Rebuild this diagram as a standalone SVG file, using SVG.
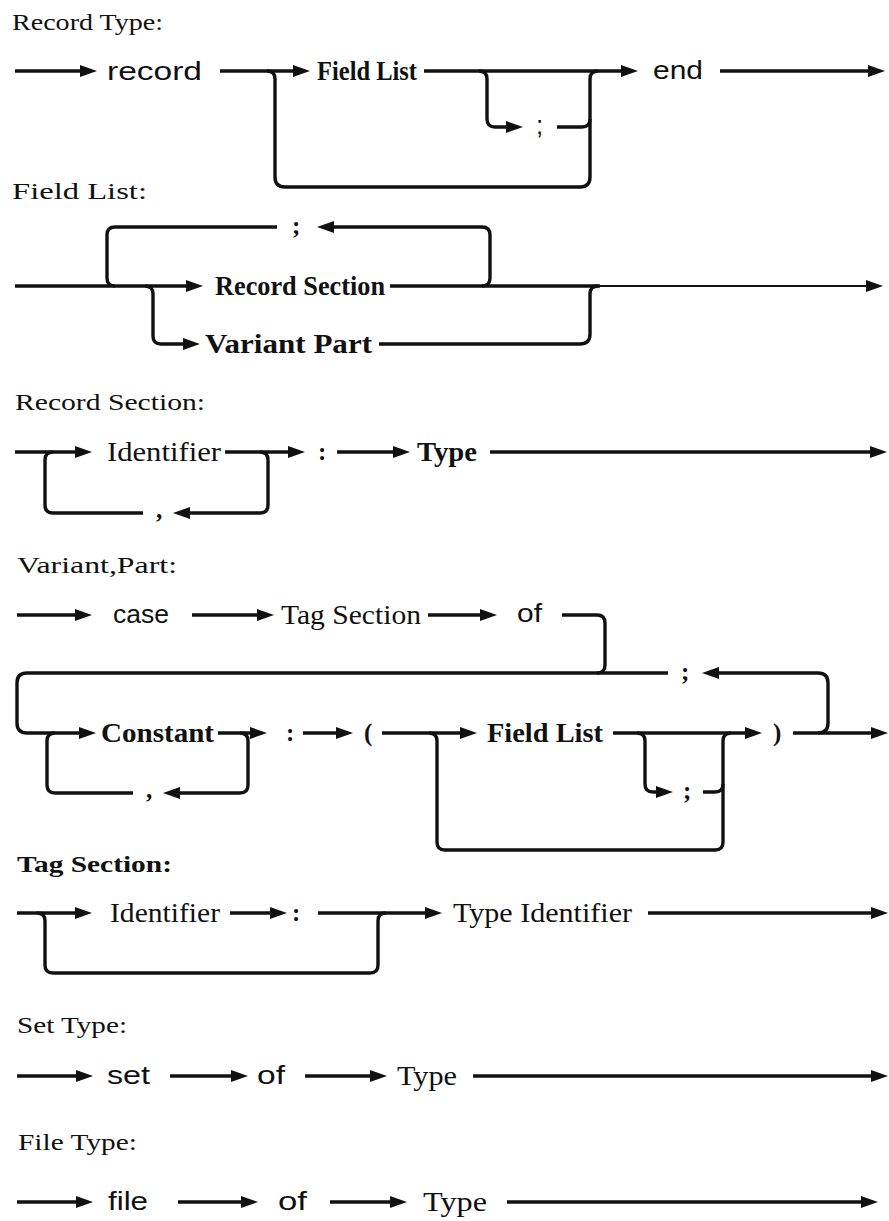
<svg xmlns="http://www.w3.org/2000/svg" width="889" height="1221" viewBox="0 0 889 1221">
<style>
.ttl{font-family:"Liberation Serif",serif;font-size:24px;fill:#111}
.kw{font-family:"Liberation Sans",sans-serif;font-size:26px;fill:#111}
.nb{font-family:"Liberation Serif",serif;font-size:27px;font-weight:bold;fill:#111}
.nn{font-family:"Liberation Serif",serif;font-size:27px;fill:#111}
.pn{font-family:"Liberation Serif",serif;font-size:25px;font-weight:bold;fill:#111}
.c{fill:none;stroke:#111;stroke-width:3.4;stroke-linejoin:round}
.a{marker-end:url(#ah)}
.thin{stroke-width:2}
</style>
<defs>
<marker id="ah" markerUnits="userSpaceOnUse" markerWidth="18" markerHeight="14" refX="9" refY="6.5" orient="auto">
<path d="M0,0.5 L17,6.5 L0,12.5 z" fill="#111"/>
</marker>
</defs>
<rect width="889" height="1221" fill="#fff"/>

<g id="titles">
<text class="ttl" x="12" y="30" textLength="151" lengthAdjust="spacingAndGlyphs">Record Type:</text>
<text class="ttl" x="12" y="199" textLength="135" lengthAdjust="spacingAndGlyphs">Field List:</text>
<text class="ttl" x="15" y="410" textLength="190" lengthAdjust="spacingAndGlyphs">Record Section:</text>
<text class="ttl" x="17" y="573" textLength="160" lengthAdjust="spacingAndGlyphs">Variant,Part:</text>
<text class="ttl" x="17" y="872" textLength="155" lengthAdjust="spacingAndGlyphs" font-weight="bold">Tag Section:</text>
<text class="ttl" x="17" y="1033" textLength="110" lengthAdjust="spacingAndGlyphs">Set Type:</text>
<text class="ttl" x="18" y="1150" textLength="119" lengthAdjust="spacingAndGlyphs">File Type:</text>
</g>

<g id="connectors">
<!-- Record Type -->
<path class="c a" d="M15 71 H89"/>
<path class="c a" d="M220 71 H302"/>
<path class="c" d="M267 71 Q275 71 275 79 V177 Q275 187 285 187 H580 Q590 187 590 177 V79 Q590 71 598 71"/>
<path class="c a" d="M424 71 H630"/>
<path class="c a" d="M479 71 Q487 71 487 79 V119 Q487 127 495 127 H515"/>
<path class="c" d="M557 127 H582 Q590 127 590 119"/>
<path class="c a" d="M720 71 H877"/>
<!-- Field List -->
<path class="c a" d="M15 286 H195"/>
<path class="c" d="M277 227 H115 Q107 227 107 235 V278 Q107 286 115 286"/>
<path class="c a" d="M482 286 Q490 286 490 278 V235 Q490 227 482 227 H325"/>
<path class="c a" d="M145 286 Q153 286 153 294 V336 Q153 344 161 344 H192"/>
<path class="c" d="M390 286 H600"/>
<path class="c thin a" d="M600 286 H875"/>
<path class="c" d="M379 344 H580 Q590 344 590 334 V294 Q590 286 598 286"/>
<!-- Record Section -->
<path class="c a" d="M15 452 H84"/>
<path class="c a" d="M225 452 H297"/>
<path class="c a" d="M260 452 Q268 452 268 460 V505 Q268 513 260 513 H181"/>
<path class="c" d="M143 513 H53 Q45 513 45 505 V460 Q45 452 53 452"/>
<path class="c a" d="M337 452 H402"/>
<path class="c a" d="M490 452 H879"/>
<!-- Variant Part -->
<path class="c a" d="M17 615 H84"/>
<path class="c a" d="M192 615 H266"/>
<path class="c a" d="M428 615 H489"/>
<path class="c" d="M562 615 H597 Q605 615 605 623 V665 Q605 673 597 673"/>
<path class="c a" d="M668 673 H27 Q17 673 17 683 V723 Q17 733 27 733 H88"/>
<path class="c a" d="M218 733 H259"/>
<path class="c a" d="M240 733 Q248 733 248 741 V785 Q248 793 240 793 H171"/>
<path class="c" d="M133 793 H55 Q47 793 47 785 V741 Q47 733 55 733"/>
<path class="c a" d="M303 733 H345"/>
<path class="c a" d="M382 733 H469"/>
<path class="c" d="M429 733 Q437 733 437 741 V842 Q437 850 445 850 H715 Q723 850 723 842 V741 Q723 733 731 733"/>
<path class="c a" d="M613 733 H754"/>
<path class="c a" d="M637 733 Q645 733 645 741 V784 Q645 792 653 792 H665"/>
<path class="c" d="M703 792 H715 Q723 792 723 784"/>
<path class="c a" d="M793 733 H880"/>
<path class="c a" d="M818 733 Q828 733 828 723 V683 Q828 673 818 673 H710"/>
<!-- Tag Section -->
<path class="c a" d="M17 913 H84"/>
<path class="c a" d="M230 913 H279"/>
<path class="c a" d="M318 913 H434"/>
<path class="c a" d="M648 913 H880"/>
<path class="c" d="M37 913 Q45 913 45 921 V965 Q45 973 53 973 H370 Q378 973 378 965 V921 Q378 913 386 913"/>
<!-- Set Type -->
<path class="c a" d="M17 1076 H85"/>
<path class="c a" d="M170 1076 H240"/>
<path class="c a" d="M305 1076 H379"/>
<path class="c a" d="M473 1076 H880"/>
<!-- File Type -->
<path class="c a" d="M17 1202 H85"/>
<path class="c a" d="M178 1202 H250"/>
<path class="c a" d="M330 1202 H399"/>
<path class="c a" d="M507 1202 H870"/>
</g>

<g id="n-record"><text class="kw" x="107" y="80" textLength="95" lengthAdjust="spacingAndGlyphs">record</text></g>
<g id="n-fieldlist1"><text class="nb" x="317" y="80" textLength="100" lengthAdjust="spacingAndGlyphs">Field List</text></g>
<g id="n-semi1"><text class="kw" x="536" y="134" font-size="20">;</text></g>
<g id="n-end"><text class="kw" x="653" y="79" textLength="50" lengthAdjust="spacingAndGlyphs">end</text></g>

<g id="n-semi2"><text class="pn" x="292" y="234">;</text></g>
<g id="n-recordsection"><text class="nb" x="215" y="295" textLength="170" lengthAdjust="spacingAndGlyphs">Record Section</text></g>
<g id="n-variantpart"><text class="nb" x="205" y="353" textLength="167" lengthAdjust="spacingAndGlyphs">Variant Part</text></g>

<g id="n-identifier1"><text class="nn" x="107" y="461" textLength="114" lengthAdjust="spacingAndGlyphs">Identifier</text></g>
<g id="n-comma1"><text class="pn" x="156" y="518">,</text></g>
<g id="n-colon1"><text class="pn" x="318" y="460">:</text></g>
<g id="n-type1"><text class="nb" x="417" y="461" textLength="60" lengthAdjust="spacingAndGlyphs">Type</text></g>

<g id="n-case"><text class="kw" x="113" y="623" textLength="56" lengthAdjust="spacingAndGlyphs">case</text></g>
<g id="n-tagsection"><text class="nn" x="281" y="624" textLength="140" lengthAdjust="spacingAndGlyphs">Tag Section</text></g>
<g id="n-of1"><text class="kw" x="517" y="622" textLength="25" lengthAdjust="spacingAndGlyphs">of</text></g>
<g id="n-semi3"><text class="pn" x="681" y="680">;</text></g>
<g id="n-constant"><text class="nb" x="101" y="742" textLength="113" lengthAdjust="spacingAndGlyphs">Constant</text></g>
<g id="n-colon2"><text class="pn" x="286" y="741">:</text></g>
<g id="n-lparen"><text class="pn" x="364" y="741">(</text></g>
<g id="n-comma2"><text class="pn" x="146" y="798">,</text></g>
<g id="n-fieldlist2"><text class="nb" x="487" y="742" textLength="116" lengthAdjust="spacingAndGlyphs">Field List</text></g>
<g id="n-semi4"><text class="pn" x="683" y="799">;</text></g>
<g id="n-rparen"><text class="pn" x="773" y="741">)</text></g>

<g id="n-identifier2"><text class="nn" x="110" y="922" textLength="110" lengthAdjust="spacingAndGlyphs">Identifier</text></g>
<g id="n-colon3"><text class="pn" x="292" y="921">:</text></g>
<g id="n-typeidentifier"><text class="nn" x="453" y="922" textLength="179" lengthAdjust="spacingAndGlyphs">Type Identifier</text></g>

<g id="n-set"><text class="kw" x="107" y="1084" textLength="43" lengthAdjust="spacingAndGlyphs">set</text></g>
<g id="n-of2"><text class="kw" x="257" y="1084" textLength="28" lengthAdjust="spacingAndGlyphs">of</text></g>
<g id="n-type2"><text class="nn" x="397" y="1085" textLength="60" lengthAdjust="spacingAndGlyphs">Type</text></g>

<g id="n-file"><text class="kw" x="108" y="1210" textLength="40" lengthAdjust="spacingAndGlyphs">file</text></g>
<g id="n-of3"><text class="kw" x="278" y="1210" textLength="29" lengthAdjust="spacingAndGlyphs">of</text></g>
<g id="n-type3"><text class="nn" x="423" y="1211" textLength="64" lengthAdjust="spacingAndGlyphs">Type</text></g>
</svg>
